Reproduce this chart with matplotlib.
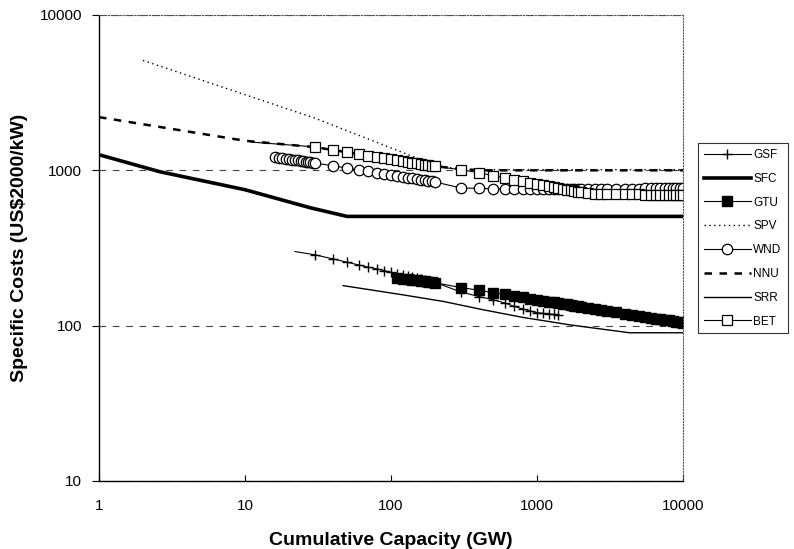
import matplotlib
matplotlib.use("Agg")
import matplotlib.pyplot as plt

plt.rcParams["font.family"] = ["Liberation Sans", "DejaVu Sans"]

# values (cumulative capacity GW, specific cost US$2000/kW)
mid_x = [30, 40, 50, 60, 70, 80, 90, 100, 110, 120, 130, 140, 150, 160, 170, 180, 190, 200]
late_x = [300, 400, 500, 600, 700, 800, 900, 1000, 1100, 1200, 1300, 1400, 1500, 1600,
          1700, 1800, 1900, 2000, 2250, 2500, 2750, 3000, 3500, 4000, 4500, 5000, 5500,
          6000, 6500, 7000, 7500, 8000, 8500, 9000, 9500, 10000]

gsf_x = [22] + mid_x + [300, 400, 500, 600, 700, 800, 900, 1000, 1100, 1200, 1300, 1400]
gsf_y = [300,
         286, 269, 256, 246, 238, 232, 226, 221, 216, 212, 208, 205, 202, 200, 197, 195, 192, 190,
         165, 154, 147, 140, 133, 128, 124, 121, 120, 119, 118, 117]

sfc_x = [1, 2.6, 10, 28, 50, 10000]
sfc_y = [1260, 980, 750, 574, 505, 505]

gtu_x = [110, 120, 130, 140, 150, 160, 170, 180, 190, 200] + late_x
gtu_y = [203, 201, 199, 197, 196, 194, 193, 191, 190, 189,
         176, 169, 163, 159, 155, 152, 149, 147, 145, 143, 141, 140, 138, 137, 136, 134,
         133, 132, 130, 128, 126, 125, 122, 119, 117, 115, 114, 112, 111, 110, 109, 108,
         107, 106, 105, 104]

spv_x = [2, 30, 200, 300, 10000]
spv_y = [5100, 2170, 1080, 1010, 1010]

wnd_x = [16, 17, 18, 19, 20, 21, 22, 23, 24, 25, 26, 27, 28, 29] + mid_x + late_x
wnd_y = [1220, 1209, 1199, 1190, 1181, 1173, 1165, 1158, 1151, 1144, 1138, 1132, 1126, 1120,
         1115, 1069, 1034, 1006, 984, 965, 948, 933, 920, 908, 898, 888, 879, 870, 863, 855,
         849, 842,
         770, 765, 762, 760, 760, 760, 758, 758, 758, 757, 757, 757, 757, 757, 758, 758,
         758, 758, 759, 759, 760, 760, 761, 762, 762, 763, 764, 764, 765, 766, 766, 767,
         768, 768, 769, 770]

nnu_x = [1, 10, 30, 100, 200, 400, 10000]
nnu_y = [2200, 1550, 1410, 1180, 1060, 1000, 1000]

srr_x = [47, 120, 230, 420, 800, 1700, 4300, 10000]
srr_y = [181, 158, 143, 127, 113, 101, 90, 90]

bet_x = [11] + mid_x + late_x
bet_y = [1520,
         1416, 1355, 1310, 1273, 1244, 1219, 1197, 1178, 1161, 1145, 1132, 1119, 1107, 1096,
         1086, 1076, 1068, 1060,
         1010, 965, 925, 895, 870, 848, 830, 815, 800, 788, 777, 767, 758, 750, 742, 735,
         728, 722, 712, 705, 702, 700, 700, 700, 699, 699, 698, 698, 698, 697, 697, 697,
         696, 696, 696, 696]

x_ticks = [1, 10, 100, 1000, 10000]
y_ticks = [10, 100, 1000, 10000]

fig = plt.figure(figsize=(7.94, 5.49), dpi=100)
ax = fig.add_axes([0.1247, 0.1239, 0.7355, 0.8488])

ax.plot(gsf_x, gsf_y, color="black", lw=0.8, marker="+", ms=7.5, mew=1.0,
        markevery=slice(1, None), label="GSF")
ax.plot(sfc_x, sfc_y, color="black", lw=2.6, label="SFC")
ax.plot(gtu_x, gtu_y, color="black", lw=0.8, marker="s", ms=6.5, mfc="black",
        mec="black", label="GTU")
ax.plot(spv_x, spv_y, color="black", lw=1.0, linestyle=(0, (1, 2.5)), label="SPV")
ax.plot(wnd_x, wnd_y, color="black", lw=0.8, marker="o", ms=7.5, mfc="white",
        mec="black", mew=0.9, label="WND")
ax.plot(nnu_x, nnu_y, color="black", lw=1.8, linestyle=(0, (3, 3)), label="NNU")
ax.plot(srr_x, srr_y, color="black", lw=1.0, label="SRR")
ax.plot(bet_x, bet_y, color="black", lw=0.8, marker="s", ms=6.5, mfc="white",
        mec="black", mew=0.9, markevery=slice(1, None), label="BET")

ax.set_xscale("log")
ax.set_yscale("log")
ax.set_xlim(1, 10000)
ax.set_ylim(10, 10000)

ax.set_xticks(x_ticks)
ax.set_xticklabels([str(v) for v in x_ticks])
ax.set_yticks(y_ticks)
ax.set_yticklabels([str(v) for v in y_ticks])
ax.minorticks_off()
ax.tick_params(axis="x", direction="in", length=4, width=0.8, pad=13, labelsize=11)
ax.tick_params(axis="y", direction="out", length=5, width=0.8, pad=7, labelsize=11)

ax.yaxis.grid(True, which="major", color="#444444", lw=0.8, linestyle=(0, (6, 6)))
ax.set_axisbelow(True)

for side in ("left", "bottom"):
    ax.spines[side].set_linewidth(1.0)
for side in ("top", "right"):
    ax.spines[side].set_linewidth(0.8)
    ax.spines[side].set_linestyle(":")
    ax.spines[side].set_color("#555555")

ax.set_xlabel("Cumulative Capacity (GW)", fontsize=14, fontweight="bold", labelpad=14)
ax.set_ylabel("Specific Costs (US$2000/kW)", fontsize=14, fontweight="bold")
ax.yaxis.set_label_coords(-0.121, 0.5)

leg = fig.legend(loc="upper left", bbox_to_anchor=(0.879, 0.7395), borderaxespad=0,
                 fontsize=8.5, handlelength=4.0, handletextpad=0.2, labelspacing=1.0,
                 borderpad=0.5, fancybox=False, frameon=True)
leg.get_frame().set_edgecolor("black")
leg.get_frame().set_linewidth(0.8)

fig.savefig("out.png", dpi=100, facecolor="white")
